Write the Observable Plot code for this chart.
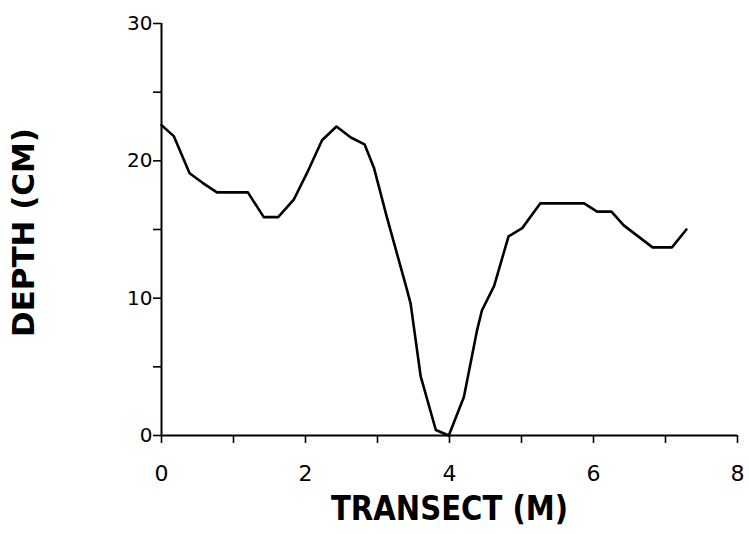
<!DOCTYPE html>
<html>
<head>
<meta charset="utf-8">
<script src="https://cdn.jsdelivr.net/npm/d3@7"></script>
<script src="https://cdn.jsdelivr.net/npm/@observablehq/plot@0.6"></script>
<style>
  html, body { margin: 0; padding: 0; background: #fff; }
</style>
</head>
<body>
<div id="chart"></div>
<script>
// Depth profile along the transect
const transect = [0.0, 0.17, 0.39, 0.57, 0.77, 1.20, 1.42, 1.62, 1.84, 2.02, 2.23, 2.43, 2.63, 2.82, 2.95, 3.13, 3.41, 3.46, 3.60, 3.81, 3.99, 4.20, 4.38, 4.45, 4.62, 4.82, 5.01, 5.26, 5.87, 6.05, 6.25, 6.42, 6.82, 7.09, 7.29];
const depth    = [22.6, 21.8, 19.1, 18.4, 17.7, 17.7, 15.9, 15.9, 17.2, 19.1, 21.5, 22.5, 21.7, 21.2, 19.5, 15.9, 10.6, 9.6, 4.3, 0.4, 0.0, 2.8, 7.6, 9.1, 10.9, 14.5, 15.1, 16.9, 16.9, 16.3, 16.3, 15.3, 13.7, 13.7, 15.0];

const xTicks = [0, 1, 2, 3, 4, 5, 6, 7, 8];
const yTicks = [0, 5, 10, 15, 20, 25, 30];
const xLabel = "TRANSECT (M)";
const yLabel = "DEPTH (CM)";

const profile = transect.map((x, i) => ({x, depth: depth[i]}));

const font = "'DejaVu Sans', sans-serif";

const chart = Plot.plot({
  width: 749,
  height: 534,
  marginLeft: 161,
  marginRight: 12,
  marginTop: 23,
  marginBottom: 99,
  x: {domain: [0, 8]},
  y: {domain: [0, 30]},
  style: {fontFamily: font, fontSize: "20px", background: "#fff", color: "#000"},
  marks: [
    Plot.ruleY([0], {stroke: "#000", strokeWidth: 2}),
    Plot.ruleX([0], {stroke: "#000", strokeWidth: 2}),
    Plot.axisY({
      ticks: yTicks,
      tickFormat: d => (d % 10 === 0 ? d : ""),
      tickSize: 8,
      tickPadding: 1,
      fontSize: 20,
      strokeWidth: 1.6,
      label: null
    }),
    Plot.axisX({
      ticks: xTicks,
      tickFormat: d => (d % 2 === 0 ? d : ""),
      tickSize: 8,
      tickPadding: 22,
      fontSize: 22,
      strokeWidth: 1.6,
      label: null
    }),
    Plot.line(profile, {x: "x", y: "depth", stroke: "#000", strokeWidth: 2.6, strokeLinejoin: "round"}),
    Plot.text([xLabel], {frameAnchor: "bottom", lineAnchor: "middle", dy: 74, fontSize: 34, fontWeight: 700, fill: "#000", className: "x-title"}),
    Plot.text([yLabel], {frameAnchor: "left", textAnchor: "middle", lineAnchor: "middle", rotate: -90, dx: -137, dy: 3, fontSize: 30, fontWeight: 900, fill: "#000", className: "y-title"})
  ]
});

// Condense the axis titles to their typeset widths
d3.select(chart).selectAll(".x-title text").attr("textLength", 237).attr("lengthAdjust", "spacingAndGlyphs");
d3.select(chart).selectAll(".y-title text").attr("textLength", 209).attr("lengthAdjust", "spacingAndGlyphs");

document.getElementById("chart").appendChild(chart);
</script>
</body>
</html>
